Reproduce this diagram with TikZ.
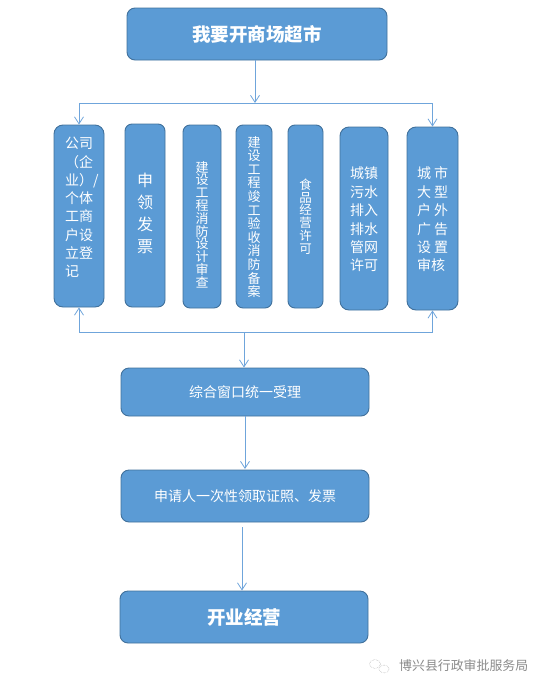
\documentclass[tikz,border=0pt]{standalone}
\usepackage{fontspec}
\setmainfont{Noto Sans CJK SC}
\usetikzlibrary{arrows.meta,calc}
\definecolor{boxfill}{HTML}{5B9BD5}
\definecolor{boxline}{HTML}{41719C}
\definecolor{conn}{HTML}{6FA5DB}
\definecolor{wm}{HTML}{8A8A8A}
% stack of lines: size, pitch, vertical offset from box centre, lines
\newcommand{\stk}[4]{\makebox[0pt]{\raisebox{#3pt}[0pt][0pt]{$\vcenter{\hsize=60pt\parindent=0pt\lineskiplimit=-30pt\baselineskip=#2pt\fontsize{#1}{#2}\selectfont\centering #4\par}$}}}
\tikzset{
  flowbox/.style={draw=boxline,fill=boxfill,line width=0.9pt,text=white,rounded corners=#1,inner sep=0pt,anchor=center},
  flowbox/.default=8pt,
  wire/.style={draw=conn,line width=1pt},
  arrowwire/.style={wire,-{Straight Barb[length=7pt,width=9pt,line width=0.8pt]}},
  titletext/.style={font=\fontsize{18.5}{22}\selectfont},
  bodytext/.style={font=\fontsize{14}{18}\selectfont}
}
\begin{document}
\begin{tikzpicture}[x=1pt,y=-1pt]
\useasboundingbox (0,0) rectangle (546,691);
\node[flowbox=8pt,titletext,minimum width=260pt,minimum height=52pt] (top) at (257,34) {\textbf{我要开商场超市}};
\node[flowbox=9pt,minimum width=50pt,minimum height=182pt] (b1) at (79,216) {\stk{14}{18.3}{6}{公司\\（企\\业）\makebox[0pt][l]{/}\\个体\\工商\\户设\\立登\\\makebox[28pt][l]{记}}};
\node[flowbox=7pt,minimum width=40pt,minimum height=183pt] (b2) at (145,215.5) {\stk{16}{22}{0}{申\\领\\发\\票}};
\node[flowbox=7pt,minimum width=38pt,minimum height=183pt] (b3) at (202,216.5) {\stk{13}{12.8}{-10.5}{建\\设\\工\\程\\消\\防\\设\\计\\审\\查}};
\node[flowbox=7pt,minimum width=36pt,minimum height=183pt] (b4) at (254,216.5) {\stk{13}{13.6}{-3}{建\\设\\工\\程\\竣\\工\\验\\收\\消\\防\\备\\案}};
\node[flowbox=7pt,minimum width=35pt,minimum height=183pt] (b5) at (305.5,216.5) {\stk{12.5}{12.7}{-2.5}{食\\品\\经\\营\\许\\可}};
\node[flowbox=9pt,minimum width=48pt,minimum height=183pt] (b6) at (364,218.5) {\stk{14}{18.4}{-3.5}{城镇\\污水\\排入\\排水\\管网\\许可}};
\node[flowbox=9pt,minimum width=51pt,minimum height=183pt] (b7) at (432.5,218.5) {\stk{14}{18.4}{-3.5}{城\hspace{3pt}市\\大\hspace{3pt}型\\户\hspace{3pt}外\\广\hspace{3pt}告\\设\hspace{3pt}置\\\makebox[31pt][l]{审核}}};
\node[flowbox=8pt,bodytext,minimum width=248pt,minimum height=48pt] (w1) at (245,392) {综合窗口统一受理};
\node[flowbox=8pt,bodytext,minimum width=248pt,minimum height=52pt] (w2) at (245,496) {申请人一次性领取证照、发票};
\node[flowbox=8pt,titletext,minimum width=248pt,minimum height=52pt] (w3) at (244,617) {\textbf{开业经营}};
% watermark text
\node[text=wm,font=\fontsize{12.9}{15}\selectfont,inner sep=0pt,anchor=west] (wmtext) at (399,666) {博兴县行政审批服务局};
% watermark icon
\draw[wm!70,line width=0.5pt,densely dotted] (375,664) ellipse (5.5pt and 4.5pt);
\draw[wm!70,line width=0.5pt,densely dotted] (384,669) ellipse (5pt and 4pt);
% connectors
\coordinate (upperjoin) at (255,103);
\coordinate (upperL) at (b1.north |- upperjoin);
\coordinate (upperR) at (b7.north |- upperjoin);
\coordinate (lowerjoin) at (244,332);
\coordinate (lowerL) at (b1.south |- lowerjoin);
\coordinate (lowerR) at (b7.south |- lowerjoin);
\coordinate (tail1) at (255,60);
\coordinate (tail2) at (245,416);
\coordinate (head2) at (245,469);
\coordinate (tail3) at (242,527);
\draw[arrowwire] (tail1) -- (upperjoin);
\draw[arrowwire] (upperR) -- (upperL) -- (b1.north);
\draw[arrowwire] (upperL) -- (upperR) -- (b7.north);
\draw[arrowwire] (lowerR) -- (lowerL) -- (b1.south);
\draw[arrowwire] (lowerL) -- (lowerR) -- (b7.south);
\draw[arrowwire] (lowerjoin) -- (lowerjoin |- w1.north);
\draw[arrowwire] (tail2) -- (head2);
\draw[arrowwire] (tail3) -- (tail3 |- w3.north);
\end{tikzpicture}
\end{document}
